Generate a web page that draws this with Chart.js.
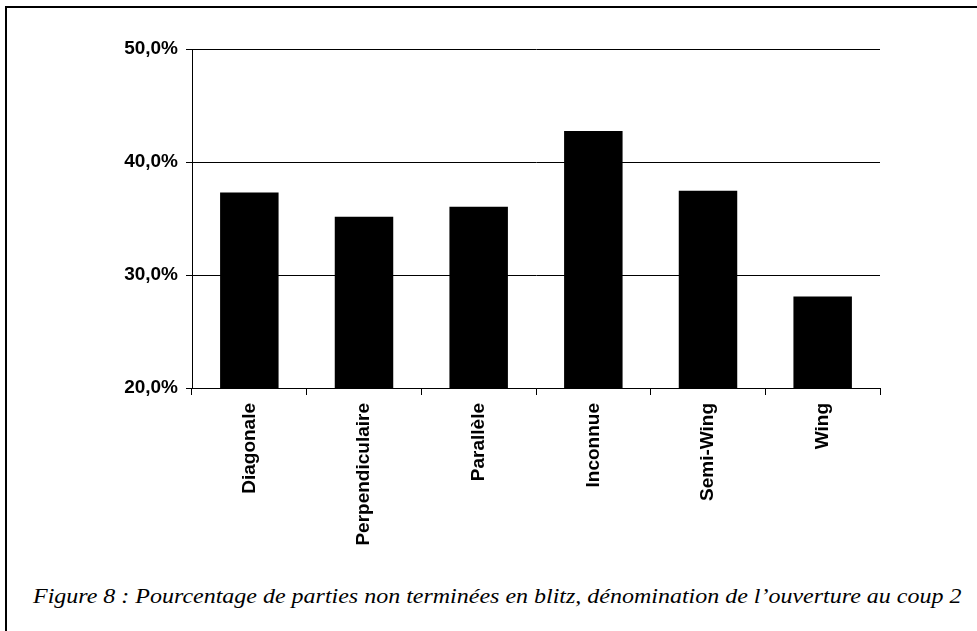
<!DOCTYPE html>
<html>
<head>
<meta charset="utf-8">
<script src="https://cdn.jsdelivr.net/npm/chart.js@4"></script>
<style>
  html, body { margin: 0; padding: 0; background: #fff; }
  body { width: 977px; height: 631px; position: relative; overflow: hidden; }
  #frame {
    position: absolute; left: 5px; top: 6px; right: 0; bottom: 0;
    border-top: 2px solid #000; border-left: 2px solid #000;
  }
  #chartBox { position: absolute; left: 0; top: 0; }
  #caption {
    position: absolute; left: 33px; top: 585px;
    font-family: 'Liberation Serif', 'Times New Roman', serif;
    font-style: italic; font-size: 22px; line-height: 1; color: #000;
    white-space: nowrap;
    transform: scaleX(1.09); transform-origin: left top;
  }
</style>
</head>
<body>
<div id="frame"></div>
<canvas id="chartBox" width="977" height="560"></canvas>
<div id="caption">Figure 8 : Pourcentage de parties non terminées en blitz, dénomination de l’ouverture au coup 2</div>
<script>
const categories = ['Diagonale', 'Perpendiculaire', 'Parallèle', 'Inconnue', 'Semi-Wing', 'Wing']
const values = [37.3, 35.15, 36.05, 42.75, 37.45, 28.1]
const yTicks = [20, 30, 40, 50]

const tickFont = { family: "'Liberation Sans', Arial, sans-serif", size: 19, weight: 'bold' }

new Chart(document.getElementById('chartBox'), {
  type: 'bar',
  data: {
    labels: categories,
    datasets: [{
      data: values,
      backgroundColor: '#000',
      borderWidth: 0,
      barPercentage: 0.51,
      categoryPercentage: 1.0,
    }]
  },
  options: {
    responsive: false,
    animation: false,
    layout: { padding: { left: 0, top: 49, right: 97, bottom: 0 } },
    plugins: {
      legend: { display: false },
      tooltip: { enabled: false },
    },
    scales: {
      x: {
        offset: true,
        grid: {
          offset: true,
          drawOnChartArea: false,
          drawTicks: true,
          tickLength: 7,
          color: '#000',
          lineWidth: 1,
        },
        border: { color: '#000', width: 1 },
        ticks: {
          color: '#000',
          font: tickFont,
          minRotation: 90,
          maxRotation: 90,
          autoSkip: false,
          padding: 8,
        },
        afterFit: (scale) => { scale.height = 172 },
      },
      y: {
        min: yTicks[0],
        max: yTicks[yTicks.length - 1],
        afterBuildTicks: (scale) => { scale.ticks = yTicks.map(v => ({ value: v })) },
        grid: {
          color: '#000',
          lineWidth: 1,
          tickLength: 6,
        },
        border: { color: '#000', width: 1 },
        ticks: {
          color: '#000',
          font: tickFont,
          padding: 8,
          callback: (v) => v.toFixed(1).replace('.', ',') + '%',
        },
        afterFit: (scale) => { scale.width = 192 },
      }
    }
  }
})
</script>
</body>
</html>
